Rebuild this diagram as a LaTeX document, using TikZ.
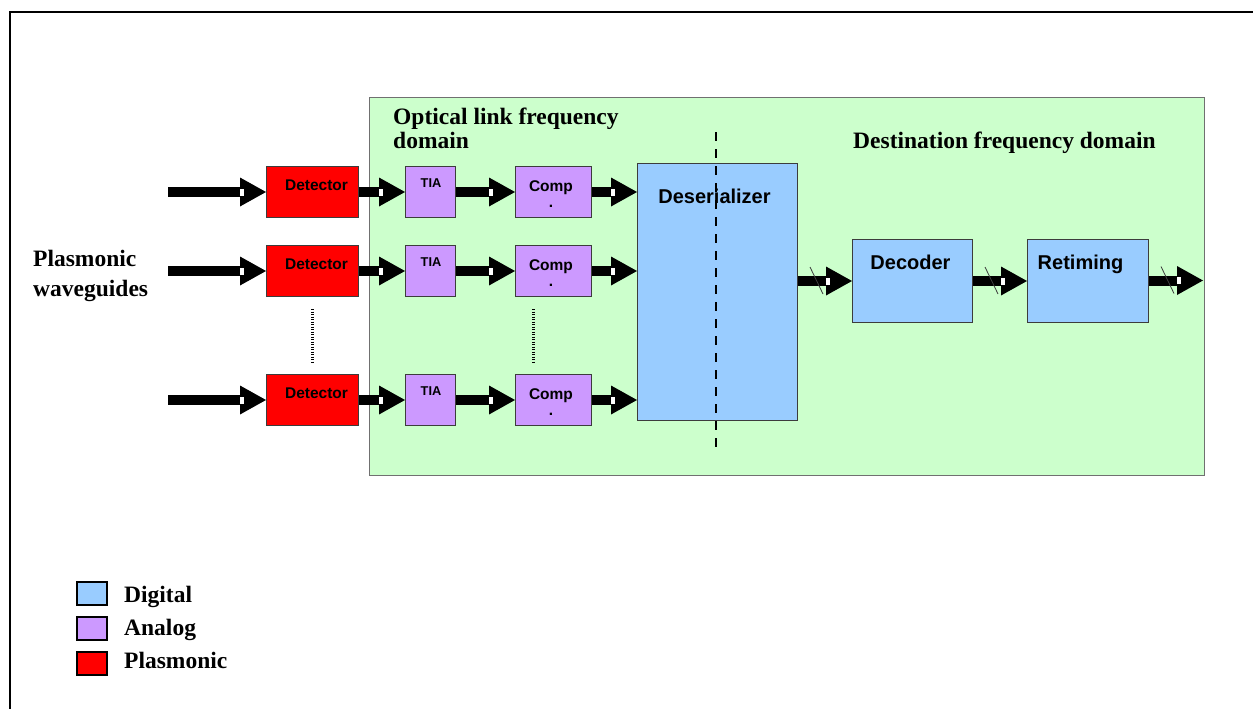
\documentclass[tikz,border=0pt]{standalone}
\usepackage{fontspec}
\setmainfont{Liberation Serif}
\newfontfamily\arialfont{Liberation Sans}
\usetikzlibrary{calc}

\definecolor{plasred}{HTML}{FF0000}
\definecolor{analogpurple}{HTML}{CC99FF}
\definecolor{digitalblue}{HTML}{99CCFF}
\definecolor{domaingreen}{HTML}{CCFFCC}
\definecolor{edgegray}{HTML}{3C3C3C}
\definecolor{domainedge}{HTML}{707070}

% thick block arrow with a small white notch at the base of its head
\newcommand\blockarrow[2]{%
  \path (#1) coordinate (ba-s) (#2) coordinate (ba-e);
  \fill[black] ($(ba-s)+(0,-5)$) rectangle ($(ba-e)+(-22,5)$);
  \fill[black] ($(ba-e)+(-26,-14.5)$) -- (ba-e) -- ($(ba-e)+(-26,14.5)$) -- cycle;
  \fill[white] ($(ba-e)+(-26,-3.5)$) rectangle ($(ba-e)+(-22.5,3.5)$);
}
% same arrow, crossed by a bus slash
\newcommand\busarrow[2]{%
  \blockarrow{#1}{#2}%
  \draw[edgegray, line width=0.8pt] ($(ba-e)+(-42,-14)$) -- ($(ba-e)+(-29,13)$);
}

\begin{document}
\begin{tikzpicture}[x=1pt, y=-1pt,
  block/.style={draw=edgegray, line width=1pt, inner sep=0pt, anchor=north west, rectangle},
  detbox/.style={block, fill=plasred, minimum width=92pt, minimum height=51pt},
  tiabox/.style={block, fill=analogpurple, minimum width=50pt, minimum height=51pt},
  compbox/.style={block, fill=analogpurple, minimum width=76pt, minimum height=51pt},
  digbox/.style={block, fill=digitalblue},
  keybox/.style={draw=black, line width=2pt, inner sep=0pt, anchor=north west,
    minimum width=30pt, minimum height=23pt},
  smalltext/.style={font=\arialfont\bfseries\fontsize{15.5}{16}\selectfont, inner sep=0pt, anchor=base},
  tiatext/.style={font=\arialfont\bfseries\fontsize{12.8}{14}\selectfont, inner sep=0pt, anchor=base},
  bigtext/.style={font=\arialfont\bfseries\fontsize{20}{22}\selectfont, inner sep=0pt, anchor=base},
  serif/.style={font=\bfseries\fontsize{23.5}{24}\selectfont, inner sep=0pt},
  vdots/.style={line width=2.2pt, dash pattern=on 1.4pt off 1.1pt},
]
\useasboundingbox (0,0) rectangle (1253,709);
\clip (0,0) rectangle (1253,709);

% outer frame
\draw[line width=1.8pt] (10,12) rectangle (1275,735);

% frequency domain area
\node[draw=domainedge, fill=domaingreen, line width=1pt, inner sep=0pt, anchor=north west,
  minimum width=835pt, minimum height=378pt] (dom) at (369,97) {};
\node[serif, anchor=north west, align=left] (domA) at (393,108) {Optical link frequency\\domain};
\node[serif, anchor=base west] (domB) at (853,148) {Destination frequency domain};

% input label
\node[serif, anchor=north west, align=left, font=\bfseries\fontsize{23.5}{30}\selectfont]
  (pw) at (33,249.5) {Plasmonic\\waveguides};

% detectors, TIAs and comparators
\foreach \r/\y in {1/166, 2/245, 3/374} {
  \node[detbox] (det\r) at (266,\y) {};
  \node[smalltext] at ($(det\r.north west)+(50.5,24)$) {Detector};
  \node[tiabox] (tia\r) at (405,\y) {};
  \node[tiatext] at ($(tia\r.north west)+(26,21)$) {TIA};
  \node[compbox] (comp\r) at (515,\y) {};
  \node[smalltext, anchor=north, align=center] at ($(comp\r.north west)+(36,14.5)$) {Comp\\.};
  \coordinate (in\r) at (168,\y+25.5);
}

% digital blocks
\node[digbox, minimum width=160pt, minimum height=257pt] (deser) at (637,163) {};
\node[bigtext] at ($(deser.north)+(-3,40)$) {Deserializer};
\node[digbox, minimum width=120pt, minimum height=83pt] (dec) at (852,239) {};
\node[bigtext] at ($(dec.north)+(-2,30)$) {Decoder};
\node[digbox, minimum width=121pt, minimum height=83pt] (ret) at (1027,239) {};
\node[bigtext] at ($(ret.north)+(-7.5,30)$) {Retiming};
\coordinate (out) at (1203,280.5);

% boundary between the two frequency domains
\draw[line width=2.7pt, dash pattern=on 9pt off 8pt] (716,132) -- (716,453);

% signal flow
\foreach \r in {1,2,3} {
  \blockarrow{in\r}{det\r.west}
  \blockarrow{det\r.east}{tia\r.west}
  \blockarrow{tia\r.east}{comp\r.west}
  \blockarrow{comp\r.east}{comp\r.east -| deser.west}
}
\busarrow{deser.east |- dec.west}{dec.west}
\busarrow{dec.east}{ret.west}
\busarrow{ret.east}{out}

% further channels
\draw[vdots] ($(det2.south)+(0,12)$) -- ($(det3.north)+(0,-12)$);
\draw[vdots] ($(comp2.south)+(-20,12)$) -- ($(comp3.north)+(-20,-12)$);

% legend
\node[keybox, fill=digitalblue] (kd) at (75.5,580.5) {};
\node[keybox, fill=analogpurple] (ka) at (76,616) {};
\node[keybox, fill=plasred] (kp) at (76,650.5) {};
\node[serif, anchor=base west] at (124,602) {Digital};
\node[serif, anchor=base west] at (124,635) {Analog};
\node[serif, anchor=base west] at (124,668) {Plasmonic};
\end{tikzpicture}
\end{document}
